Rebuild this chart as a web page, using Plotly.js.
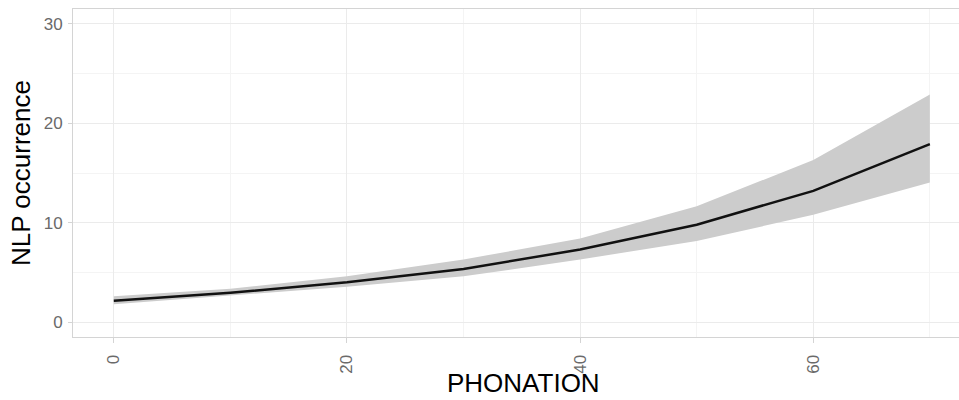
<!DOCTYPE html>
<html>
<head>
<meta charset="utf-8">
<script src="https://cdn.plot.ly/plotly-3.0.1.min.js"></script>
<style>html,body{margin:0;padding:0;background:#fff}#chart{width:959px;height:400px}</style>
</head>
<body>
<div id="chart"></div>
<script>
const phonation = [0, 10, 20, 30, 40, 50, 60, 70];
const fitValues = [2.15, 2.95, 4.0, 5.35, 7.3, 9.8, 13.2, 17.9];
const upperValues = [2.6, 3.35, 4.6, 6.3, 8.4, 11.65, 16.3, 22.9];
const lowerValues = [1.8, 2.65, 3.55, 4.6, 6.3, 8.15, 10.8, 14.05];
const xTicks = [0, 20, 40, 60];
const yTicks = [0, 10, 20, 30];

const font = "'Liberation Sans', Arial, Helvetica, sans-serif";

const traces = [
  {x: phonation, y: lowerValues, type: 'scatter', mode: 'lines', line: {width: 0, color: 'rgba(0,0,0,0)'}, hoverinfo: 'skip', showlegend: false},
  {x: phonation, y: upperValues, type: 'scatter', mode: 'lines', fill: 'tonexty', fillcolor: '#cccccc', line: {width: 0, color: 'rgba(0,0,0,0)'}, hoverinfo: 'skip', showlegend: false},
  {x: phonation, y: fitValues, type: 'scatter', mode: 'lines', line: {color: '#111111', width: 2.5}, showlegend: false}
];

const layout = {
  width: 959, height: 400,
  margin: {l: 73, r: 0, t: 9, b: 63},
  paper_bgcolor: '#ffffff', plot_bgcolor: '#ffffff',
  font: {family: font},
  xaxis: {
    range: [-3.5, 72.5],
    tickvals: xTicks, ticktext: xTicks.map(String),
    tickangle: -90,
    tickfont: {size: 17, color: '#6a6a6a', family: font},
    ticks: 'outside', ticklen: 5, tickcolor: '#d4d4d4', tickwidth: 1,
    ticklabelstandoff: 5,
    showgrid: true, gridcolor: '#ebebeb', gridwidth: 1,
    minor: {tickvals: [10, 30, 50, 70], showgrid: true, gridcolor: '#f4f4f4', gridwidth: 1},
    showline: true, linecolor: '#d4d4d4', linewidth: 1, mirror: true,
    zeroline: false
  },
  yaxis: {
    range: [-1.5, 31.5],
    tickvals: yTicks, ticktext: yTicks.map(String),
    tickfont: {size: 17, color: '#6a6a6a', family: font},
    ticks: 'outside', ticklen: 4, tickcolor: '#d4d4d4', tickwidth: 1,
    ticklabelstandoff: 2,
    showgrid: true, gridcolor: '#ebebeb', gridwidth: 1,
    minor: {tickvals: [5, 15, 25], showgrid: true, gridcolor: '#f4f4f4', gridwidth: 1},
    showline: true, linecolor: '#d4d4d4', linewidth: 1,
    zeroline: false,
    title: {text: 'NLP occurrence', font: {size: 26, color: '#000000', family: font}, standoff: 5}
  },
  annotations: [
    {text: 'PHONATION', xref: 'paper', yref: 'paper', x: 0.508, y: -0.14, xanchor: 'center', yanchor: 'middle', showarrow: false, font: {size: 26, color: '#000000', family: font}}
  ]
};

Plotly.newPlot('chart', traces, layout, {displayModeBar: false, staticPlot: true});
</script>
</body>
</html>
